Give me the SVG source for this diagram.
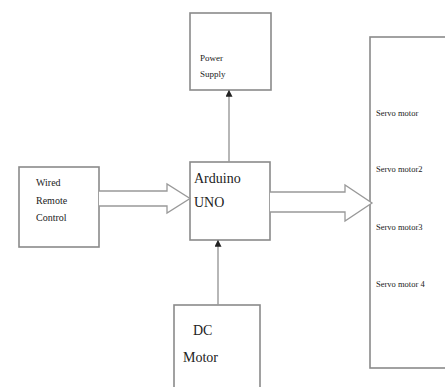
<svg xmlns="http://www.w3.org/2000/svg" width="445" height="387" viewBox="0 0 445 387">
<defs>
<style>
.box{fill:#fff;stroke:#8a8a8a;stroke-width:1.6}
.ln{fill:none;stroke:#999;stroke-width:1.4}
.blk{fill:#fff;stroke:#999;stroke-width:1.3}
.t{font-family:"Liberation Serif",serif;fill:#222}
</style>
<marker id="ah" viewBox="0 0 6 6" refX="5" refY="3" markerWidth="5" markerHeight="5" orient="auto"><path d="M0,0 L6,3 L0,6 z" fill="#222"/></marker>
</defs>
<rect width="445" height="387" fill="#fff"/>
<g id="power">
<rect class="box" x="190" y="13" width="81" height="77"/>
<text class="t" x="200" y="61" font-size="9">Power</text>
<text class="t" x="200" y="77" font-size="9">Supply</text>
</g>
<g id="remote">
<rect class="box" x="19" y="167" width="80" height="80"/>
<text class="t" x="36" y="186" font-size="10">Wired</text>
<text class="t" x="36" y="204" font-size="10">Remote</text>
<text class="t" x="36" y="221" font-size="10">Control</text>
</g>
<g id="arduino">
<rect class="box" x="190" y="162" width="80" height="78"/>
<text class="t" x="194" y="183" font-size="14">Arduino</text>
<text class="t" x="194" y="207" font-size="14">UNO</text>
</g>
<g id="servo">
<rect class="box" x="370" y="37" width="90" height="331"/>
<text class="t" x="376" y="116" font-size="8.5">Servo motor</text>
<text class="t" x="376" y="172" font-size="8.5">Servo motor2</text>
<text class="t" x="376" y="230" font-size="8.5">Servo motor3</text>
<text class="t" x="376" y="287" font-size="8.5">Servo motor 4</text>
</g>
<g id="dcmotor">
<rect class="box" x="174" y="305" width="86" height="90"/>
<text class="t" x="193" y="335" font-size="14">DC</text>
<text class="t" x="183" y="362" font-size="14">Motor</text>
</g>
<g id="connectors">
<line class="ln" x1="229" y1="162" x2="229" y2="91" marker-end="url(#ah)"/>
<line class="ln" x1="218" y1="305" x2="218" y2="241" marker-end="url(#ah)"/>
<path class="blk" d="M99,191 L167,191 L167,184 L190,198.5 L167,213 L167,206 L99,206"/>
<path class="blk" d="M270,192 L345,192 L345,185 L372,203 L345,221 L345,212 L270,212"/>
</g>
</svg>
